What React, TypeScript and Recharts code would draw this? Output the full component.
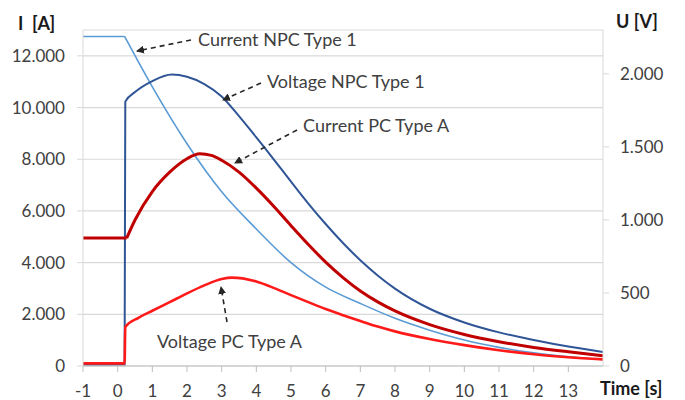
import React from 'react';
import { LineChart, Line, XAxis, YAxis, CartesianGrid } from 'recharts';

// time axis [s]
const xTicks = [-1, 0, 1, 2, 3, 4, 5, 6, 7, 8, 9, 10, 11, 12, 13];
const currentTicks = [0, 2000, 4000, 6000, 8000, 10000, 12000];
const voltageTicks = [0, 500, 1000, 1500, 2000];

// Current NPC Type 1 [A]
const npcCurrentTime = [-1, 0.2, 1, 2, 3, 4, 5, 6, 7, 8, 9, 10, 11, 12, 13, 14];
const npcCurrentValue = [12750, 12750, 10800, 8600, 6740, 5300, 4000, 3050, 2420, 1845, 1385, 1005, 720, 510, 360, 250];

// Voltage NPC Type 1 [V]
const npcVoltageTime = [-1, 0.2, 0.22, 0.5, 1, 1.56, 2, 2.5, 3, 3.5, 4, 4.5, 5, 5.5, 6, 6.5, 7, 7.5, 8, 9, 10, 11, 12, 13, 14];
const npcVoltageValue = [10, 10, 1810, 1875, 1950, 1995, 1980, 1930, 1845, 1710, 1565, 1415, 1262, 1112, 972, 842, 724, 620, 530, 392, 298, 230, 178, 133, 96];

// Current PC Type A [A]
const pcCurrentTime = [-1, 0.26, 0.5, 1, 1.5, 2, 2.37, 2.7, 3, 3.5, 4, 4.5, 5, 5.5, 6, 6.5, 7, 7.5, 8, 9, 10, 11, 12, 13, 14];
const pcCurrentValue = [4950, 4950, 5650, 6750, 7500, 8020, 8210, 8150, 7960, 7500, 6880, 6180, 5430, 4700, 4020, 3420, 2900, 2480, 2130, 1600, 1220, 940, 720, 550, 400];

// Voltage PC Type A [V]
const pcVoltageTime = [-1, 0.2, 0.22, 0.6, 1, 1.5, 2, 2.5, 3, 3.3, 3.6, 4, 4.5, 5, 5.5, 6, 6.5, 7, 7.5, 8, 9, 10, 11, 12, 13, 14];
const pcVoltageValue = [18, 18, 267, 330, 378, 437, 497, 552, 595, 605, 600, 578, 535, 485, 437, 390, 348, 308, 270, 237, 185, 143, 108, 80, 60, 45];

const toSeries = (time: number[], value: number[]) => time.map((t, i) => ({ t, v: value[i] }));

const npcCurrent = toSeries(npcCurrentTime, npcCurrentValue);
const npcVoltage = toSeries(npcVoltageTime, npcVoltageValue);
const pcCurrent = toSeries(pcCurrentTime, pcCurrentValue);
const pcVoltage = toSeries(pcVoltageTime, pcVoltageValue);

// 12000 -> "12.000"
const fmt = (n: number) => String(n).replace(/\B(?=(\d{3})+(?!\d))/g, '.');

const FONT = 'Lato, "Open Sans", sans-serif';
const tickStyle = { fill: '#404040', fontSize: 17, fontFamily: FONT };

function Annotations() {
  const txt = { fill: '#404040', fontSize: 18, fontFamily: FONT };
  const title = { fill: '#1a1a1a', fontSize: 18, fontFamily: FONT, fontWeight: 'bold' as const };
  const arrow = { stroke: '#262626', strokeWidth: 1.6, strokeDasharray: '5 4', markerEnd: 'url(#head)' };
  return (
    <svg width={685} height={400} style={{ position: 'absolute', left: 0, top: 0, pointerEvents: 'none' }}>
      <defs>
        <marker id="head" markerWidth="8" markerHeight="8" refX="7" refY="4" orient="auto" markerUnits="userSpaceOnUse">
          <path d="M0,0 L8,4 L0,8 z" fill="#262626" />
        </marker>
      </defs>
      <text x={18} y={30} {...title}>{'I\u00A0\u00A0[A]'}</text>
      <text x={616} y={28} {...title}>U [V]</text>
      <text x={600} y={395} {...title}>Time [s]</text>

      <text x={198} y={46} {...txt}>Current NPC Type 1</text>
      <line x1={191} y1={40} x2={137} y2={51} {...arrow} />
      <text x={267} y={88} {...txt}>Voltage NPC Type 1</text>
      <line x1={261} y1={83} x2={223} y2={100} {...arrow} />
      <text x={303} y={132} {...txt}>Current PC Type A</text>
      <line x1={297} y1={130} x2={235} y2={163} {...arrow} />
      <text x={157} y={348} {...txt}>Voltage PC Type A</text>
      <line x1={227} y1={322} x2={221} y2={287} {...arrow} />
    </svg>
  );
}

const lineProps = { dataKey: 'v', dot: false, isAnimationActive: false };

export default function App() {
  return (
    <div style={{ position: 'absolute', left: 0, top: 0, width: 685, height: 400, background: '#fff' }}>
      <LineChart width={685} height={400} margin={{ top: 30, right: 0, bottom: 0, left: 0 }}>
        <CartesianGrid yAxisId="left" vertical={false} stroke="#d9d9d9" strokeWidth={1.2} />
        <XAxis
          type="number"
          dataKey="t"
          domain={[-1, 14]}
          ticks={xTicks}
          allowDataOverflow
          height={34}
          stroke="#bfbfbf"
          tickSize={6}
          tickMargin={13}
          tick={tickStyle}
        />
        <YAxis
          yAxisId="left"
          domain={[0, 13000]}
          ticks={currentTicks}
          width={83}
          stroke="#d9d9d9"
          tickSize={6}
          tickMargin={12}
          tick={tickStyle}
          tickFormatter={fmt}
        />
        <YAxis
          yAxisId="right"
          orientation="right"
          domain={[0, 2300]}
          ticks={voltageTicks}
          width={82}
          stroke="#d9d9d9"
          tickSize={6}
          tickMargin={11}
          tick={tickStyle}
          tickFormatter={fmt}
        />
        {/* flat part before the event drawn straight, so the corner stays sharp */}
        <Line yAxisId="left" data={npcCurrent.slice(0, 2)} type="linear" stroke="#5b9bd5" strokeWidth={1.6} {...lineProps} />
        <Line yAxisId="left" data={npcCurrent.slice(1)} type="monotone" stroke="#5b9bd5" strokeWidth={1.6} {...lineProps} />
        <Line yAxisId="right" data={npcVoltage} type="monotone" stroke="#2f5597" strokeWidth={2} {...lineProps} />
        <Line yAxisId="left" data={pcCurrent.slice(0, 2)} type="linear" stroke="#c00000" strokeWidth={3} {...lineProps} />
        <Line yAxisId="left" data={pcCurrent.slice(1)} type="monotone" stroke="#c00000" strokeWidth={3} {...lineProps} />
        <Line yAxisId="right" data={pcVoltage} type="monotone" stroke="#ff1a1a" strokeWidth={2.6} {...lineProps} />
      </LineChart>
      <Annotations />
    </div>
  );
}
